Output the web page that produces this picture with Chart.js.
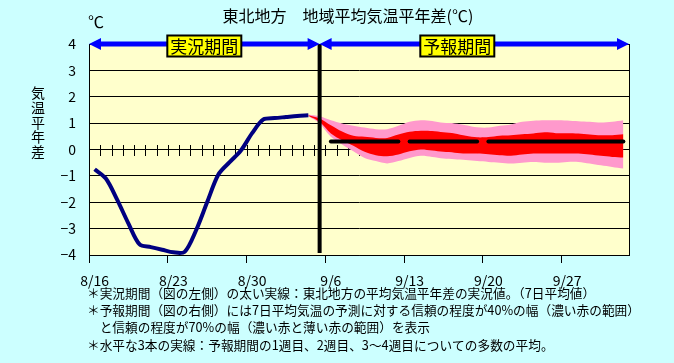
<!DOCTYPE html>
<html>
<head>
<meta charset="utf-8">
<script src="https://cdn.jsdelivr.net/npm/chart.js@4.4.1/dist/chart.umd.min.js"></script>
<style>
html, body { margin: 0; padding: 0; background: #ccffff; }
#wrap { width: 674px; height: 363px; }
</style>
</head>
<body>
<div id="wrap"><canvas id="chart"></canvas></div>
<script>
// 日付 (8/16 - 10/2)
const days = ['8/16','8/17','8/18','8/19','8/20','8/21','8/22','8/23','8/24','8/25',
    '8/26','8/27','8/28','8/29','8/30','8/31','9/1','9/2','9/3','9/4',
    '9/5','9/6','9/7','9/8','9/9','9/10','9/11','9/12','9/13','9/14',
    '9/15','9/16','9/17','9/18','9/19','9/20','9/21','9/22','9/23','9/24',
    '9/25','9/26','9/27','9/28','9/29','9/30','10/1','10/2'];
const tickDays = ['8/16','8/23','8/30','9/6','9/13','9/20','9/27'];
const yMin = -4;
const yMax = 4;

// 実況値 (8/16 - 9/4)
const obsValues = [-0.75, -1.1, -1.9, -2.8, -3.6, -3.7, -3.8, -3.9, -3.88, -3.08,
    -2.0, -0.95, -0.48, -0.04, 0.62, 1.14, 1.19, 1.23, 1.27, 1.3];

// 予報の幅 (9/4 - 10/2)
const fcFirstDay = '9/4';
const fcStartDay = '9/5';
const pinkTop = [1.33, 1.26, 1.11, 0.99, 0.9, 0.83, 0.77, 0.77, 0.9, 1.05,
    1.11, 1.08, 1.01, 0.99, 0.92, 0.84, 0.83, 0.9, 0.95, 1.05,
    1.09, 1.11, 1.11, 1.1, 1.07, 1.05, 1.02, 1.05, 1.11];
const redTop = [1.3, 1.18, 0.92, 0.68, 0.52, 0.48, 0.44, 0.44, 0.57, 0.67,
    0.71, 0.7, 0.65, 0.61, 0.52, 0.46, 0.47, 0.52, 0.54, 0.58,
    0.61, 0.65, 0.62, 0.62, 0.61, 0.57, 0.54, 0.54, 0.58];
const redBottom = [1.28, 1.05, 0.61, 0.35, 0.14, -0.09, -0.22, -0.26, -0.19, -0.07,
    0.0, -0.04, -0.09, -0.12, -0.15, -0.15, -0.18, -0.22, -0.24, -0.19,
    -0.15, -0.15, -0.15, -0.15, -0.15, -0.19, -0.24, -0.28, -0.3];
const pinkBottom = [1.26, 0.99, 0.48, 0.19, -0.07, -0.32, -0.44, -0.53, -0.44, -0.32,
    -0.24, -0.28, -0.34, -0.37, -0.4, -0.44, -0.47, -0.5, -0.53, -0.5,
    -0.47, -0.5, -0.5, -0.47, -0.47, -0.53, -0.6, -0.66, -0.72];

// 多数の平均 (1週目, 2週目, 3~4週目)
const meanValues = [0.3, 0.3, 0.3];
const meanFrom = ['9/6', '9/13', '9/20'];
const meanTo = ['9/12', '9/19', '10/2'];

const notes = [
    '＊実況期間（図の左側）の太い実線：東北地方の平均気温平年差の実況値。（7日平均値）',
    '＊予報期間（図の右側）には7日平均気温の予測に対する信頼の程度が40%の幅（濃い赤の範囲）',
    '　と信頼の程度が70%の幅（濃い赤と薄い赤の範囲）を表示',
    '＊水平な3本の実線：予報期間の1週目、2週目、3～4週目についての多数の平均。'
];

const FONT = '"Noto Sans CJK JP", "Noto Sans", sans-serif';

// データを日付の長さに合わせる
const nulls = (n) => Array(n).fill(null);
const obsData = obsValues.concat(nulls(days.length - obsValues.length));
const fcOffset = days.indexOf(fcFirstDay);
const pad = (arr) => nulls(fcOffset).concat(arr);

const meanSets = meanValues.map((v, k) => {
    const a = days.indexOf(meanFrom[k]);
    const b = days.indexOf(meanTo[k]);
    return {
        data: days.map((d, i) => (i >= a && i <= b ? v : null)),
        borderColor: '#000000',
        borderWidth: 4,
        borderCapStyle: 'round',
        pointRadius: 0,
        fill: false,
        spanGaps: false,
        order: 1
    };
});

function arrow(ctx, x1, x2, y) {
    ctx.fillStyle = '#0000ff';
    ctx.fillRect(x1 + 6, y - 2.5, x2 - x1 - 12, 5);
    ctx.beginPath();
    ctx.moveTo(x1, y);
    ctx.lineTo(x1 + 12, y - 6);
    ctx.lineTo(x1 + 12, y + 6);
    ctx.closePath();
    ctx.moveTo(x2, y);
    ctx.lineTo(x2 - 12, y - 6);
    ctx.lineTo(x2 - 12, y + 6);
    ctx.closePath();
    ctx.fill();
}

function labelBox(ctx, text, cx, cy) {
    ctx.font = '17px ' + FONT;
    const w = ctx.measureText(text).width + 6;
    const h = 21;
    ctx.fillStyle = '#ffff00';
    ctx.fillRect(cx - w / 2, cy - h / 2, w, h);
    ctx.strokeStyle = '#000000';
    ctx.lineWidth = 2;
    ctx.strokeRect(cx - w / 2, cy - h / 2, w, h);
    ctx.fillStyle = '#000000';
    ctx.textAlign = 'center';
    ctx.textBaseline = 'middle';
    ctx.fillText(text, cx, cy + 1);
}

const decor = {
    id: 'decor',
    beforeDraw(chart) {
        const { ctx, chartArea: a } = chart;
        ctx.save();
        ctx.fillStyle = '#ccffff';
        ctx.fillRect(0, 0, chart.width, chart.height);
        ctx.fillStyle = '#ffffcc';
        ctx.fillRect(a.left, a.top, a.right - a.left, a.bottom - a.top);
        ctx.restore();
    },
    beforeDatasetsDraw(chart) {
        // 0の線の日ごとの目盛り
        const { ctx, scales: { x, y } } = chart;
        const y0 = Math.round(y.getPixelForValue(0));
        ctx.save();
        ctx.strokeStyle = '#000000';
        ctx.lineWidth = 1;
        ctx.beginPath();
        for (let i = 1; i < days.length; i++) {
            const px = Math.round((x.getPixelForValue(i - 1) + x.getPixelForValue(i)) / 2) + 0.5;
            ctx.moveTo(px, y0 - 5);
            ctx.lineTo(px, y0 + 6);
        }
        ctx.stroke();
        ctx.restore();
    },
    afterDatasetsDraw(chart) {
        const { ctx, chartArea: a, scales: { x } } = chart;
        const xs = x.getPixelForValue(days.indexOf(fcStartDay));
        ctx.save();
        // 右の枠
        ctx.strokeStyle = '#000000';
        ctx.lineWidth = 1;
        ctx.beginPath();
        ctx.moveTo(a.right + 0.5, a.top);
        ctx.lineTo(a.right + 0.5, a.bottom);
        ctx.stroke();
        // 予報開始の太線
        ctx.lineWidth = 4;
        ctx.beginPath();
        ctx.moveTo(xs, a.top);
        ctx.lineTo(xs, a.bottom - 2);
        ctx.stroke();
        // 期間の矢印
        arrow(ctx, a.left, xs, a.top);
        arrow(ctx, xs, a.right, a.top);
        labelBox(ctx, '実況期間', (a.left + xs) / 2, a.top + 2);
        labelBox(ctx, '予報期間', xs + (a.right - xs) * 0.445, a.top + 2);
        ctx.restore();
    },
    afterDraw(chart) {
        const { ctx } = chart;
        ctx.save();
        ctx.fillStyle = '#000000';
        ctx.textBaseline = 'middle';
        ctx.textAlign = 'center';
        ctx.font = '16px ' + FONT;
        ctx.fillText('東北地方　地域平均気温平年差(℃)', 348, 16);
        ctx.fillText('℃', 96, 22);
        ctx.font = '14px ' + FONT;
        '気温平年差'.split('').forEach((c, i) => ctx.fillText(c, 38, 93 + i * 14.6));
        ctx.textAlign = 'left';
        ctx.font = '12.7px ' + FONT;
        notes.forEach((t, i) => ctx.fillText(t, 87, 293 + i * 17.3));
        ctx.restore();
    }
};

new Chart(document.getElementById('chart'), {
    type: 'line',
    data: {
        labels: days,
        datasets: [
            {
                data: obsData,
                borderColor: '#000080',
                borderWidth: 4,
                tension: 0.3,
                pointRadius: 0,
                fill: false,
                order: 0
            },
            ...meanSets,
            {
                data: pad(redTop),
                borderWidth: 0,
                borderColor: 'rgba(0,0,0,0)',
                backgroundColor: '#ff0000',
                tension: 0.3,
                pointRadius: 0,
                fill: '+1',
                order: 2
            },
            {
                data: pad(redBottom),
                borderWidth: 0,
                borderColor: 'rgba(0,0,0,0)',
                tension: 0.3,
                pointRadius: 0,
                fill: false,
                order: 3
            },
            {
                data: pad(pinkTop),
                borderWidth: 0,
                borderColor: 'rgba(0,0,0,0)',
                backgroundColor: '#ff99cc',
                tension: 0.3,
                pointRadius: 0,
                fill: '+1',
                order: 4
            },
            {
                data: pad(pinkBottom),
                borderWidth: 0,
                borderColor: 'rgba(0,0,0,0)',
                tension: 0.3,
                pointRadius: 0,
                fill: false,
                order: 5
            }
        ]
    },
    options: {
        responsive: true,
        maintainAspectRatio: false,
        animation: false,
        layout: { padding: { top: 44, right: 45, left: 0, bottom: 0 } },
        plugins: {
            legend: { display: false },
            tooltip: { enabled: false }
        },
        scales: {
            x: {
                offset: true,
                afterFit: (s) => { s.height = 108; },
                grid: {
                    offset: true,
                    drawOnChartArea: false,
                    tickLength: 8,
                    color: (c) => (c.index !== undefined && c.index % 7 === 0 ? '#000000' : 'rgba(0,0,0,0)')
                },
                border: { color: '#000000', width: 1 },
                ticks: {
                    autoSkip: false,
                    maxRotation: 0,
                    minRotation: 0,
                    padding: 9,
                    color: '#000000',
                    font: { family: FONT, size: 14 },
                    callback: (v, i) => (tickDays.includes(days[i]) ? days[i] : '')
                }
            },
            y: {
                min: yMin,
                max: yMax,
                afterFit: (s) => { s.width = 89; },
                grid: { color: '#000000', drawTicks: false },
                border: { color: '#000000', width: 1 },
                ticks: {
                    stepSize: 1,
                    padding: 13,
                    color: '#000000',
                    font: { family: FONT, size: 14 },
                    callback: (v) => (v < 0 ? '−' + Math.abs(v) : String(v))
                }
            }
        }
    },
    plugins: [decor]
});
</script>
</body>
</html>
